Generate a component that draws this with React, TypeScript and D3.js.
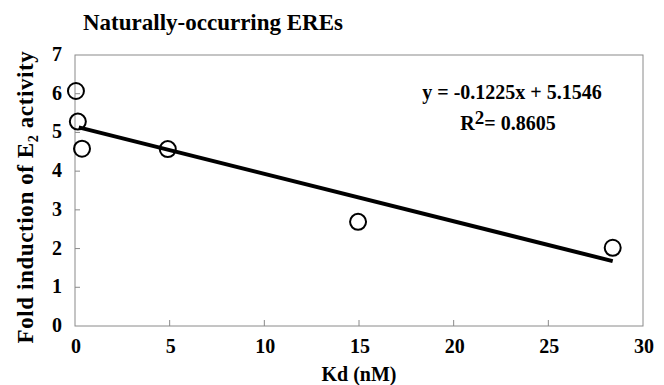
import * as d3 from "d3";
import React, { useEffect, useRef } from "react";

const kd = [0.05, 0.15, 0.37, 4.9, 14.95, 28.4];
const fold = [6.07, 5.28, 4.58, 4.57, 2.69, 2.02];
const xTicks = [0, 5, 10, 15, 20, 25, 30];
const yTicks = [0, 1, 2, 3, 4, 5, 6, 7];
const slope = -0.1225;
const intercept = 5.1546;
const fitRange = [0.2, 28.4];

const App = () => {
  const ref = useRef<SVGSVGElement | null>(null);

  useEffect(() => {
    const svg = d3.select(ref.current);
    svg.selectAll("*").remove();

    const width = 664;
    const height = 385;
    const margin = { left: 75, right: 21, top: 55, bottom: 59 };
    const font = "Liberation Serif";

    svg.attr("width", width).attr("height", height);

    const x = d3
      .scaleLinear()
      .domain([0, 30])
      .range([margin.left, width - margin.right]);
    const y = d3
      .scaleLinear()
      .domain([0, 7])
      .range([height - margin.bottom, margin.top]);

    const grey = "#8a8a8a";

    // frame
    svg
      .append("rect")
      .attr("x", x(0))
      .attr("y", y(7))
      .attr("width", x(30) - x(0))
      .attr("height", y(0) - y(7))
      .attr("fill", "none")
      .attr("stroke", grey)
      .attr("stroke-width", 1);

    // ticks inward
    svg
      .append("g")
      .selectAll("line")
      .data(xTicks.slice(1, -1))
      .enter()
      .append("line")
      .attr("x1", (d) => x(d))
      .attr("x2", (d) => x(d))
      .attr("y1", y(0))
      .attr("y2", y(0) - 6)
      .attr("stroke", grey);

    svg
      .append("g")
      .selectAll("line")
      .data(yTicks.slice(1, -1))
      .enter()
      .append("line")
      .attr("x1", x(0))
      .attr("x2", x(0) + 5)
      .attr("y1", (d) => y(d))
      .attr("y2", (d) => y(d))
      .attr("stroke", grey);

    // tick labels
    svg
      .append("g")
      .selectAll("text")
      .data(xTicks)
      .enter()
      .append("text")
      .attr("x", (d) => x(d) + 1)
      .attr("y", y(0) + 27)
      .attr("text-anchor", "middle")
      .attr("font-family", font)
      .attr("font-weight", "bold")
      .attr("font-size", 20)
      .text((d) => d);

    svg
      .append("g")
      .selectAll("text")
      .data(yTicks)
      .enter()
      .append("text")
      .attr("x", x(0) - 13)
      .attr("y", (d) => y(d) + 6)
      .attr("text-anchor", "end")
      .attr("font-family", font)
      .attr("font-weight", "bold")
      .attr("font-size", 20)
      .text((d) => d);

    // regression line
    const line = d3
      .line<number>()
      .x((d) => x(d))
      .y((d) => y(slope * d + intercept));
    svg
      .append("path")
      .attr("d", line(fitRange))
      .attr("fill", "none")
      .attr("stroke", "#000")
      .attr("stroke-width", 4);

    // points
    svg
      .append("g")
      .selectAll("circle")
      .data(kd.map((k, i) => ({ k, f: fold[i] })))
      .enter()
      .append("circle")
      .attr("cx", (d) => x(d.k))
      .attr("cy", (d) => y(d.f))
      .attr("r", 8)
      .attr("fill", "none")
      .attr("stroke", "#000")
      .attr("stroke-width", 2);

    // title
    svg
      .append("text")
      .attr("x", 83)
      .attr("y", 30)
      .attr("font-family", font)
      .attr("font-weight", "bold")
      .attr("font-size", 23)
      .text("Naturally-occurring EREs");

    // equation
    svg
      .append("text")
      .attr("x", 512)
      .attr("y", 99)
      .attr("text-anchor", "middle")
      .attr("font-family", font)
      .attr("font-weight", "bold")
      .attr("font-size", 20)
      .text(`y = ${slope}x + ${intercept}`);

    const r2 = svg
      .append("text")
      .attr("x", 508)
      .attr("y", 130)
      .attr("text-anchor", "middle")
      .attr("font-family", font)
      .attr("font-weight", "bold")
      .attr("font-size", 20);
    r2.append("tspan").text("R");
    r2.append("tspan").attr("dy", -6).attr("font-size", 19).text("2");
    r2.append("tspan").attr("dy", 6).text("= 0.8605");

    // axis titles
    svg
      .append("text")
      .attr("x", (x(0) + x(30)) / 2)
      .attr("y", 381)
      .attr("text-anchor", "middle")
      .attr("font-family", font)
      .attr("font-weight", "bold")
      .attr("font-size", 20)
      .text("Kd (nM)");

    const yl = svg
      .append("text")
      .attr("transform", `translate(33, 197) rotate(-90)`)
      .attr("text-anchor", "middle")
      .attr("font-family", font)
      .attr("font-weight", "bold")
      .attr("font-size", 23)
      .attr("letter-spacing", 0.6);
    yl.append("tspan").text("Fold induction of E");
    yl.append("tspan").attr("dy", 5).attr("font-size", 14).text("2");
    yl.append("tspan").attr("dy", -5).text(" activity");
  }, []);

  return <svg ref={ref} style={{ position: "absolute", left: 0, top: 0 }} />;
};

export default App;
